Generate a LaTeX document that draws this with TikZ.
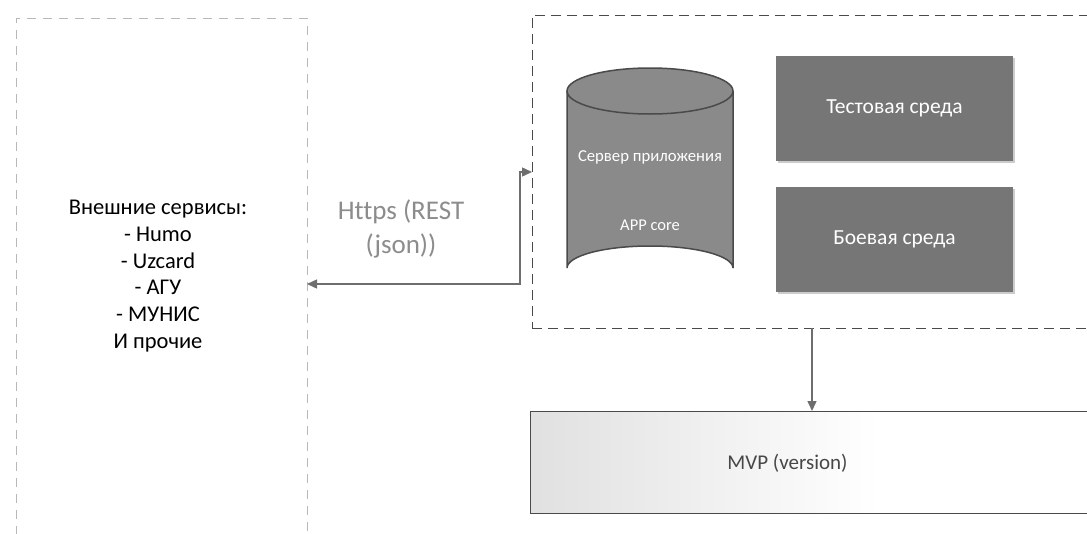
\documentclass[tikz,border=0pt]{standalone}
\usepackage{fontspec}
\setmainfont[Ligatures=NoCommon]{Carlito}
\usetikzlibrary{arrows.meta,shadows}
\definecolor{boxgray}{HTML}{767676}
\definecolor{cylgray}{HTML}{8A8A8A}
\definecolor{edgegray}{HTML}{4A4A4A}
\definecolor{linegray}{HTML}{6E6E6E}
\definecolor{faint}{HTML}{B8B8B8}
\definecolor{labgray}{HTML}{8C8C8C}
\pgfdeclarehorizontalshading{mvpshade}{100bp}{color(0bp)=(black!22); color(30bp)=(black!10); color(55bp)=(white); color(100bp)=(white)}
\tikzset{
  envbox/.style={fill=boxgray, draw=none, minimum width=237pt, minimum height=105pt,
    text=white, font=\fontsize{21.5}{24}\selectfont,
    drop shadow={shadow xshift=1.5pt, shadow yshift=-1.5pt, fill=black!25, opacity=0.8}},
  conn/.style={draw=linegray, line width=1.4pt, {Triangle[length=10pt,width=9pt]}-{Triangle[length=10pt,width=9pt]}},
  down/.style={draw=linegray, line width=1.4pt, -{Triangle[length=10pt,width=9pt]}},
  plain/.style={inner sep=0pt, outer sep=0pt}
}
\begin{document}
\begin{tikzpicture}[x=1pt,y=-1pt]
\useasboundingbox (0,0) rectangle (1087,533);
% left box of external services
\node[plain, draw=faint, line width=0.8pt, dash pattern=on 9pt off 7pt,
  minimum width=291pt, minimum height=542pt] (lb) at (161.5,289) {};
\node[align=center, font=\fontsize{22.5}{26.8}\selectfont] (ext) at (158,276)
  {Внешние сервисы:\\- Humo\\- Uzcard\\- АГУ\\- МУНИС\\И прочие};
% right dashed box
\node[plain, draw=edgegray, line width=1pt, dash pattern=on 10pt off 6pt,
  minimum width=578pt, minimum height=313pt] (rb) at (821,171.5) {};
% cylinder
\node[plain, minimum width=166pt, minimum height=222pt] (srv) at (650,179) {};
\fill[cylgray] (567,91) -- (567,268) arc[start angle=180, end angle=360, x radius=83, y radius=22]
  -- (733,91) arc[start angle=0, end angle=180, x radius=83, y radius=23] -- cycle;
\draw[edgegray, line width=1.5pt] (567,91) -- (567,268) arc[start angle=180, end angle=360, x radius=83, y radius=22]
  -- (733,91);
\draw[edgegray, line width=1.5pt, fill=cylgray] (650,91) ellipse[x radius=83, y radius=23];
\node[text=white, font=\fontsize{16.7}{18}\selectfont] (srvt) at (650,157) {Сервер приложения};
\node[text=white, font=\fontsize{16.5}{18}\selectfont] (core) at (650,225) {APP core};
% environments
\node[envbox] (test) at (894.5,108.5) {Тестовая среда};
\node[envbox] (prod) at (894.5,239.5) {Боевая среда};
% MVP box
\node[plain, draw=edgegray, line width=0.8pt, shading=mvpshade,
  minimum width=580pt, minimum height=102pt] (mvp) at (820,462) {};
\node[text=black!72, font=\fontsize{21}{24}\selectfont] (mvpt) at (787.5,463) {MVP (version)};
% connectors
\coordinate (bend) at (520,172);
\draw[conn] (rb.west |- bend) -- (bend) |- (lb.east |- 0,284);
\node[align=center, text=labgray, font=\fontsize{27}{34}\selectfont] (https) at (401,229)
  {Https (REST\\(json))};
\draw[down] (rb.south -| 812,0) -- (mvp.north -| 812,0);
\end{tikzpicture}
\end{document}
